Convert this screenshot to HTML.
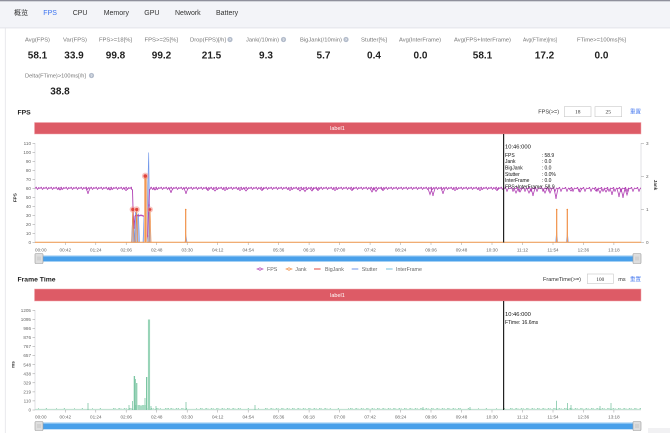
<!DOCTYPE html>
<html><head><meta charset="utf-8"><style>
html,body{margin:0;padding:0;background:#fff;width:670px;height:433px;overflow:hidden}
svg{display:block}
text{font-family:"Liberation Sans","Noto Sans CJK SC",sans-serif}
</style></head><body>
<svg width="670" height="433" viewBox="0 0 670 433" xmlns="http://www.w3.org/2000/svg">
<defs>
<pattern id="zz" x="0" y="185" width="5" height="7" patternUnits="userSpaceOnUse">
<path d="M0,3.5 L1.2,2.4 L2.5,4.4 L3.8,2.8 L5,3.5" stroke="#b03fb3" stroke-width="0.8" fill="none"/>
<circle cx="1.2" cy="2.4" r="0.65" fill="#b03fb3"/><circle cx="3.8" cy="2.8" r="0.65" fill="#b03fb3"/>
</pattern>
<pattern id="zz2" x="0" y="185" width="6" height="9" patternUnits="userSpaceOnUse">
<path d="M0,3.8 L1.5,2.6 L3,6 L4.5,3 L6,3.8" stroke="#b03fb3" stroke-width="0.8" fill="none"/>
<circle cx="1.5" cy="2.6" r="0.65" fill="#b03fb3"/><circle cx="3" cy="6" r="0.65" fill="#b03fb3"/>
</pattern>
</defs>

<!-- nav -->
<rect x="0" y="0" width="670" height="27" fill="#f3f4f8"/>
<rect x="0" y="0" width="670" height="1.3" fill="#8f909c"/>
<rect x="0" y="27" width="670" height="1.5" fill="#e9eaef"/>
<line x1="5.3" y1="28" x2="5.3" y2="433" stroke="#e4e4e8" stroke-width="0.8"/>
<g font-size="7" fill="#333">
<text x="14" y="15.2">概览</text>
<text x="43.3" y="15.2" fill="#3b73f0">FPS</text>
<text x="72.7" y="15.2">CPU</text>
<text x="103.7" y="15.2">Memory</text>
<text x="144.3" y="15.2">GPU</text>
<text x="175" y="15.2">Network</text>
<text x="216" y="15.2">Battery</text>
</g>

<!-- metrics -->
<g font-size="5.8" fill="#777">
<text x="25" y="41.6" textLength="25" lengthAdjust="spacingAndGlyphs">Avg(FPS)</text>
<text x="63" y="41.6" textLength="24" lengthAdjust="spacingAndGlyphs">Var(FPS)</text>
<text x="99" y="41.6" textLength="33" lengthAdjust="spacingAndGlyphs">FPS&gt;=18[%]</text>
<text x="144.5" y="41.6" textLength="33.5" lengthAdjust="spacingAndGlyphs">FPS&gt;=25[%]</text>
<text x="190" y="41.6" textLength="36" lengthAdjust="spacingAndGlyphs">Drop(FPS)[/h]</text>
<text x="246" y="41.6" textLength="33" lengthAdjust="spacingAndGlyphs">Jank(/10min)</text>
<text x="300" y="41.6" textLength="42" lengthAdjust="spacingAndGlyphs">BigJank(/10min)</text>
<text x="361" y="41.6" textLength="26" lengthAdjust="spacingAndGlyphs">Stutter[%]</text>
<text x="399" y="41.6" textLength="42" lengthAdjust="spacingAndGlyphs">Avg(InterFrame)</text>
<text x="454" y="41.6" textLength="57" lengthAdjust="spacingAndGlyphs">Avg(FPS+InterFrame)</text>
<text x="523" y="41.6" textLength="34" lengthAdjust="spacingAndGlyphs">Avg(FTime)[ms]</text>
<text x="577" y="41.6" textLength="49" lengthAdjust="spacingAndGlyphs">FTime&gt;=100ms[%]</text>
<text x="25" y="77.6" textLength="61" lengthAdjust="spacingAndGlyphs">Delta(FTime)&gt;100ms[/h]</text>
</g>
<g fill="#b3bccb">
<circle cx="230" cy="39.5" r="2.6"/><circle cx="283.5" cy="39.5" r="2.6"/><circle cx="346" cy="39.5" r="2.6"/><circle cx="91.5" cy="75.5" r="2.6"/>
</g>
<g font-size="4" fill="#fff" font-weight="bold" text-anchor="middle">
<text x="230" y="41">?</text><text x="283.5" y="41">?</text><text x="346" y="41">?</text><text x="91.5" y="77">?</text>
</g>
<g font-size="10" font-weight="bold" fill="#222" text-anchor="middle">
<text x="37.5" y="58.6">58.1</text>
<text x="74" y="58.6">33.9</text>
<text x="115.5" y="58.6">99.8</text>
<text x="161.5" y="58.6">99.2</text>
<text x="211.5" y="58.6">21.5</text>
<text x="266" y="58.6">9.3</text>
<text x="323.5" y="58.6">5.7</text>
<text x="374" y="58.6">0.4</text>
<text x="420.5" y="58.6">0.0</text>
<text x="482.5" y="58.6">58.1</text>
<text x="544.5" y="58.6">17.2</text>
<text x="601.5" y="58.6">0.0</text>
<text x="60" y="94.6">38.8</text>
</g>

<!-- FPS section header -->
<text x="17.5" y="114.5" font-size="6.8" font-weight="bold" fill="#222">FPS</text>
<text x="538.3" y="113.6" font-size="5.5" fill="#333">FPS(&gt;=)</text>
<rect x="564.3" y="106.7" width="26.7" height="10" fill="#fff" stroke="#c8c8c8" stroke-width="0.6"/>
<rect x="595" y="106.7" width="26.7" height="10" fill="#fff" stroke="#c8c8c8" stroke-width="0.6"/>
<text x="577.7" y="113.6" font-size="5.5" fill="#333" text-anchor="middle" style="font-family:'Liberation Serif',serif">18</text>
<text x="608.3" y="113.6" font-size="5.5" fill="#333" text-anchor="middle" style="font-family:'Liberation Serif',serif">25</text>
<text x="630" y="113.6" font-size="5.5" fill="#4a7cf0">重置</text>

<rect x="34.5" y="122.5" width="606.5" height="11.5" fill="#dd5b66" stroke="#f2a7ad" stroke-width="0.5"/>
<text x="337.5" y="130.2" font-size="5.5" fill="#fff" text-anchor="middle">label1</text>

<!-- FPS axes -->
<line x1="35" y1="143" x2="35" y2="242.5" stroke="#cfcfd4" stroke-width="0.6"/>
<line x1="641" y1="143" x2="641" y2="242.5" stroke="#cfcfd4" stroke-width="0.6"/>
<line x1="35" y1="242.5" x2="641" y2="242.5" stroke="#cfcfd4" stroke-width="0.6"/>
<g stroke="#999" stroke-width="0.5">
<path d="M32.5,143.5H35M32.5,152.5H35M32.5,161.5H35M32.5,170.5H35M32.5,179.5H35M32.5,188.5H35M32.5,197.5H35M32.5,206.5H35M32.5,215.5H35M32.5,224.5H35M32.5,233.5H35M32.5,242.5H35"/>
<path d="M641,143.5H644M641,176.5H644M641,209.5H644M641,242.5H644"/>
</g>
<g font-size="4.6" fill="#666" text-anchor="end">
<text x="31" y="145.1">110</text><text x="31" y="154.1">100</text><text x="31" y="163.1">90</text><text x="31" y="172.1">80</text><text x="31" y="181.1">70</text><text x="31" y="190.1">60</text><text x="31" y="199.1">50</text><text x="31" y="208.1">40</text><text x="31" y="217.1">30</text><text x="31" y="226.1">20</text><text x="31" y="235.1">10</text><text x="31" y="244.1">0</text>
</g>
<g font-size="4.6" fill="#666">
<text x="646" y="145.1">3</text><text x="646" y="178.1">2</text><text x="646" y="211.1">1</text><text x="646" y="244.1">0</text>
</g>
<text transform="translate(16.5,197.7) rotate(-90)" font-size="4.6" font-weight="bold" fill="#333" text-anchor="middle">FPS</text>
<text transform="translate(654,185) rotate(90)" font-size="4.6" font-weight="bold" fill="#333" text-anchor="middle">Jank</text>

<!-- FPS x labels -->
<g font-size="4.6" fill="#666" text-anchor="middle">
<text x="40.8" y="251.3">00:00</text><text x="65.3" y="251.3">00:42</text><text x="95.8" y="251.3">01:24</text><text x="126.2" y="251.3">02:06</text><text x="156.7" y="251.3">02:48</text><text x="187.2" y="251.3">03:30</text><text x="217.7" y="251.3">04:12</text><text x="248.2" y="251.3">04:54</text><text x="278.6" y="251.3">05:36</text><text x="309.1" y="251.3">06:18</text><text x="339.6" y="251.3">07:00</text><text x="370.1" y="251.3">07:42</text><text x="400.6" y="251.3">08:24</text><text x="431" y="251.3">09:06</text><text x="461.5" y="251.3">09:48</text><text x="492" y="251.3">10:30</text><text x="522.5" y="251.3">11:12</text><text x="553" y="251.3">11:54</text><text x="583.4" y="251.3">12:36</text><text x="613.9" y="251.3">13:18</text>
</g>
<g stroke="#999" stroke-width="0.5">
<path d="M65.3,242.5V245M95.8,242.5V245M126.2,242.5V245M156.7,242.5V245M187.2,242.5V245M217.7,242.5V245M248.2,242.5V245M278.6,242.5V245M309.1,242.5V245M339.6,242.5V245M370.1,242.5V245M400.6,242.5V245M431,242.5V245M461.5,242.5V245M492,242.5V245M522.5,242.5V245M553,242.5V245M583.4,242.5V245M613.9,242.5V245"/>
</g>

<!-- FPS series -->
<rect x="35" y="185" width="97" height="7" fill="url(#zz)"/>
<rect x="150" y="185" width="355" height="7" fill="url(#zz)"/>
<rect x="505" y="185" width="136" height="9" fill="url(#zz2)"/>
<path fill="none" stroke="#b03fb3" stroke-width="0.8" d="M58,188.5L60,190L62,188.5M86,188.5L88,193L90,188.5M108,188.5L110,190L112,188.5M124,188.5L126,190.5L128,188.5
M153,188.5L155,190L157,188.5M169,188.5L171,192L173,188.5M184,188.5L186,193L188,188.5M206,188.5L208,190.5L210,188.5M213,188.5L215,191L217,188.5M223,188.5L225,190.5L227,188.5M238,188.5L240,190.5L242,188.5M244,188.5L246,191L248,188.5M260,188.5L262,190.5L264,188.5M288,188.5L290,190.5L292,188.5M298,188.5L300,191L302,188.5M303,188.5L305,191.5L307,188.5M310,188.5L312,191L314,188.5M316,188.5L318,190.5L320,188.5M333,188.5L335,190.5L337,188.5M350,188.5L352,190.5L354,188.5M370,188.5L372,192L374,188.5M374,188.5L376,191.5L378,188.5M381,188.5L383,190.5L385,188.5M428,188.5L430,194.5L432,188.5M431,188.5L433,195L435,188.5M441,188.5L443,193L445,188.5M453,188.5L455,190.5L457,188.5M478,188.5L480,190.5L482,188.5M495,188.5L497,190.5L499,188.5
M514,188.5L516,193L518,188.5M518,188.5L520,192L522,188.5M527,188.5L529,193L531,188.5M531,188.5L533,195L535,188.5M543,188.5L545,193L547,188.5M548,188.5L550,193L552,188.5M554,188.5L556,198L558,188.5M569,188.5L571,191L573,188.5M578,188.5L580,192L582,188.5M594,188.5L596,191L598,188.5M598,188.5L600,193L602,188.5M604,188.5L606,192L608,188.5M610,188.5L612,194L614,188.5M617,188.5L619,196L621,188.5M621,188.5L623,197L625,188.5M625,188.5L627,195L629,188.5"/>
<g fill="#b03fb3">
<circle cx="88" cy="193" r="0.8"/><circle cx="171" cy="192" r="0.8"/><circle cx="186" cy="193" r="0.8"/><circle cx="433" cy="195" r="0.8"/><circle cx="443" cy="193" r="0.8"/><circle cx="533" cy="195" r="0.8"/><circle cx="556" cy="198" r="0.8"/><circle cx="612" cy="194" r="0.8"/><circle cx="619" cy="196" r="0.8"/><circle cx="623" cy="197" r="0.8"/>
</g>

<!-- Stutter -->
<g fill="#aac2f2" stroke="#6f96ea" stroke-width="0.6">
<polygon points="131.5,242.3 133,208 134.5,242.3"/>
<polygon points="134.5,242.3 135.5,212 137,216 138.5,214 139.5,242.3"/>
<polygon points="143,242.3 144,216 145,242.3"/>
<polygon points="146.2,242.3 148.7,152.5 150,242.3"/>
<polygon points="185,242.3 186,234.5 187,242.3"/>
<polygon points="555.7,242.3 556.7,230 557.7,242.3"/>
<polygon points="566.3,242.3 567.3,231 568.3,242.3"/>
</g>

<!-- FPS drop segment -->
<polyline fill="none" stroke="#b03fb3" stroke-width="0.9" points="131,188.5 132.5,190 133,208 134,228 135,216 137,215 139,216 141,215 143,216 144.5,216 145.5,232 146.5,240 147.5,236 148.5,214 149.5,190 150.5,188.5"/>
<g fill="#b03fb3">
<circle cx="133" cy="208" r="0.8"/><circle cx="134" cy="228" r="0.8"/><circle cx="136" cy="215.5" r="0.8"/><circle cx="138" cy="215.5" r="0.8"/><circle cx="140" cy="215.5" r="0.8"/><circle cx="142" cy="215.5" r="0.8"/><circle cx="144" cy="216" r="0.8"/><circle cx="146" cy="238" r="0.8"/><circle cx="147.5" cy="236" r="0.8"/><circle cx="149" cy="205" r="0.8"/>
</g>

<!-- Jank -->
<line x1="35" y1="242.3" x2="641" y2="242.3" stroke="#f39a4d" stroke-width="1"/>
<g fill="#f6b98a">
<rect x="144" y="176" width="3.2" height="66.3"/>
<rect x="185" y="209.5" width="1.4" height="32.8"/>
<rect x="556" y="209.5" width="1.4" height="32.8"/>
<rect x="566.6" y="209.5" width="1.4" height="32.8"/>
</g>
<path fill="none" stroke="#f08a3c" stroke-width="0.7" d="M131.8,242.3L132.8,209.5L134,242.3M135.7,242.3L136.7,209.5L137.7,242.3M145.5,242.3V176M149,242.3L150,209.5L151,242.3M185.7,242.3V209.5M556.7,242.3V209.5M567.3,242.3V209.5"/>
<g fill="#f08a3c"><circle cx="185.7" cy="209.5" r="0.8"/><circle cx="556.7" cy="209.5" r="0.8"/><circle cx="567.3" cy="209.5" r="0.8"/></g>
<!-- BigJank -->
<g fill="#f28b82" opacity="0.5">
<circle cx="132.8" cy="209.5" r="3.2"/><circle cx="136.7" cy="209.5" r="3.2"/><circle cx="145.3" cy="176" r="3.4"/><circle cx="150" cy="209.5" r="3"/>
</g>
<g fill="#e0453e">
<circle cx="132.8" cy="209.5" r="1.6"/><circle cx="136.7" cy="209.5" r="1.6"/><circle cx="145.3" cy="176" r="1.8"/><circle cx="150" cy="209.5" r="1.4"/>
</g>

<!-- crosshair & tooltip FPS -->
<line x1="503.6" y1="134" x2="503.6" y2="242.5" stroke="#222" stroke-width="1.2"/>
<g fill="#111">
<text x="505" y="148.7" font-size="5.8">10:46:000</text>
<g font-size="5">
<text x="505" y="156.8">FPS</text><text x="541.7" y="156.8">: 58.9</text>
<text x="505" y="163.1">Jank</text><text x="541.7" y="163.1">: 0.0</text>
<text x="505" y="169.5">BigJank</text><text x="541.7" y="169.5">: 0.0</text>
<text x="505" y="175.8">Stutter</text><text x="541.7" y="175.8">: 0.0%</text>
<text x="505" y="182.1">InterFrame</text><text x="541.7" y="182.1">: 0.0</text>
<text x="505" y="188.4">FPS+InterFrame: 58.9</text>
</g>
</g>

<!-- slider FPS -->
<rect x="35" y="255.5" width="606" height="6" fill="#49a0ea"/>
<rect x="35" y="255.5" width="606" height="1.2" fill="#8cc4f2"/>
<rect x="35" y="253.5" width="8" height="10" rx="1" fill="#dedede" stroke="#9a9a9a" stroke-width="0.6"/>
<rect x="633" y="253.5" width="8" height="10" rx="1" fill="#dedede" stroke="#9a9a9a" stroke-width="0.6"/>
<path d="M38,256.5V260.5M40,256.5V260.5M636,256.5V260.5M638,256.5V260.5" stroke="#aaa" stroke-width="0.5"/>

<!-- legend -->
<g stroke-width="1">
<line x1="256.7" y1="269" x2="263.3" y2="269" stroke="#b03fb3"/><circle cx="260" cy="269" r="1.2" fill="#fff" stroke="#b03fb3" stroke-width="0.7"/>
<line x1="285.7" y1="269" x2="292.3" y2="269" stroke="#f08a3c"/><circle cx="289" cy="269" r="1.2" fill="#fff" stroke="#f08a3c" stroke-width="0.7"/>
<line x1="314" y1="269" x2="320.6" y2="269" stroke="#e0453e"/>
<line x1="351.7" y1="269" x2="358.3" y2="269" stroke="#6f96ea"/>
<line x1="386" y1="269" x2="392.6" y2="269" stroke="#73c0de"/>
</g>
<g font-size="5.3" fill="#666">
<text x="267" y="270.9">FPS</text><text x="295.3" y="270.9">Jank</text><text x="325" y="270.9">BigJank</text><text x="361.7" y="270.9">Stutter</text><text x="396" y="270.9">InterFrame</text>
</g>

<!-- Frame Time header -->
<text x="17.5" y="281.6" font-size="6.8" font-weight="bold" fill="#222">Frame Time</text>
<text x="543" y="280.8" font-size="5.5" fill="#333">FrameTime(&gt;=)</text>
<rect x="587.3" y="274" width="26" height="9.5" fill="#fff" stroke="#c8c8c8" stroke-width="0.6"/>
<text x="600.3" y="280.8" font-size="5.2" fill="#333" text-anchor="middle" style="font-family:'Liberation Serif',serif">100</text>
<text x="618.3" y="280.8" font-size="5.5" fill="#333">ms</text>
<text x="630" y="280.8" font-size="5.5" fill="#4a7cf0">重置</text>

<rect x="34.5" y="289" width="606.5" height="12" fill="#dd5b66" stroke="#f2a7ad" stroke-width="0.5"/>
<text x="337.5" y="297" font-size="5.5" fill="#fff" text-anchor="middle">label1</text>

<!-- FT axes -->
<line x1="35" y1="310" x2="35" y2="410" stroke="#cfcfd4" stroke-width="0.6"/>
<line x1="35" y1="410" x2="641" y2="410" stroke="#cfcfd4" stroke-width="0.6"/>
<g stroke="#999" stroke-width="0.5">
<path d="M32.5,310.3H35M32.5,319.4H35M32.5,328.4H35M32.5,337.5H35M32.5,346.6H35M32.5,355.6H35M32.5,364.7H35M32.5,373.8H35M32.5,382.8H35M32.5,391.9H35M32.5,400.9H35M32.5,410H35"/>
<path d="M65.3,410V412.5M95.8,410V412.5M126.2,410V412.5M156.7,410V412.5M187.2,410V412.5M217.7,410V412.5M248.2,410V412.5M278.6,410V412.5M309.1,410V412.5M339.6,410V412.5M370.1,410V412.5M400.6,410V412.5M431,410V412.5M461.5,410V412.5M492,410V412.5M522.5,410V412.5M553,410V412.5M583.4,410V412.5M613.9,410V412.5"/>
</g>
<g font-size="4.6" fill="#666" text-anchor="end">
<text x="31" y="311.9">1205</text><text x="31" y="321">1095</text><text x="31" y="330">986</text><text x="31" y="339.1">876</text><text x="31" y="348.2">767</text><text x="31" y="357.2">657</text><text x="31" y="366.3">548</text><text x="31" y="375.4">438</text><text x="31" y="384.4">329</text><text x="31" y="393.5">219</text><text x="31" y="402.5">110</text><text x="31" y="411.6">0</text>
</g>
<text transform="translate(14.5,364.5) rotate(-90)" font-size="4.6" font-weight="bold" fill="#333" text-anchor="middle">ms</text>
<g font-size="4.6" fill="#666" text-anchor="middle">
<text x="40.8" y="418.4">00:00</text><text x="65.3" y="418.4">00:42</text><text x="95.8" y="418.4">01:24</text><text x="126.2" y="418.4">02:06</text><text x="156.7" y="418.4">02:48</text><text x="187.2" y="418.4">03:30</text><text x="217.7" y="418.4">04:12</text><text x="248.2" y="418.4">04:54</text><text x="278.6" y="418.4">05:36</text><text x="309.1" y="418.4">06:18</text><text x="339.6" y="418.4">07:00</text><text x="370.1" y="418.4">07:42</text><text x="400.6" y="418.4">08:24</text><text x="431" y="418.4">09:06</text><text x="461.5" y="418.4">09:48</text><text x="492" y="418.4">10:30</text><text x="522.5" y="418.4">11:12</text><text x="553" y="418.4">11:54</text><text x="583.4" y="418.4">12:36</text><text x="613.9" y="418.4">13:18</text>
</g>

<!-- FT series -->
<line x1="35" y1="409.3" x2="641" y2="409.3" stroke="#b6e0cb" stroke-width="0.8"/>
<path stroke="#8fcfb0" stroke-width="0.9" stroke-dasharray="1.5 0.8 0.6 2.5" fill="none" d="M113,408.6H160M165,408.6H185M200,408.6H240M265,408.6H330M350,408.6H460M510,408.6H641"/>
<path stroke="#8fcfb0" stroke-width="0.9" stroke-dasharray="0.8 7 1.2 9" fill="none" d="M38,408.6H110M160,408.6H200M240,408.6H265M330,408.6H350M460,408.6H510"/>
<rect x="134" y="405" width="12" height="4.5" fill="#c9eadb"/>
<g fill="#b6e2cc">
<rect x="133.5" y="376" width="1.6" height="34"/>
<rect x="146" y="377" width="1.6" height="33"/>
<rect x="147.9" y="319.5" width="2.2" height="90.5"/>
<rect x="136.2" y="383" width="1.2" height="27"/>
</g>
<path fill="none" stroke="#55b388" stroke-width="0.6" d="M88,410V403M129,410V405M132.7,410V401M134.3,410V376M135.3,410V379M136.8,410V383M139,410V405M141,410V406M143,410V405M145,410V398M146.7,410V377M149,410V319.5M151,410V406M156,410V406M186,410V402M255,410V405M556.7,410V400.7M567.3,410V403M571,410V405M611,410V403M423,410V407M470,410V407M600,410V406"/>

<!-- crosshair FT -->
<line x1="503.6" y1="301" x2="503.6" y2="410" stroke="#222" stroke-width="1.2"/>
<text x="505" y="316" font-size="5.8" fill="#111">10:46:000</text>
<text x="505" y="324" font-size="5" fill="#111">FTime: 16.6ms</text>

<!-- slider FT -->
<rect x="35" y="422.7" width="606" height="6.6" fill="#49a0ea"/>
<rect x="35" y="422.7" width="606" height="1.2" fill="#8cc4f2"/>
<rect x="35" y="421.5" width="8" height="9" rx="1" fill="#dedede" stroke="#9a9a9a" stroke-width="0.6"/>
<rect x="633" y="421.5" width="8" height="9" rx="1" fill="#dedede" stroke="#9a9a9a" stroke-width="0.6"/>
<path d="M38,424V428M40,424V428M636,424V428M638,424V428" stroke="#aaa" stroke-width="0.5"/>
<rect x="648" y="428" width="22" height="5" fill="#f1f1f3"/>
</svg>
</body></html>
